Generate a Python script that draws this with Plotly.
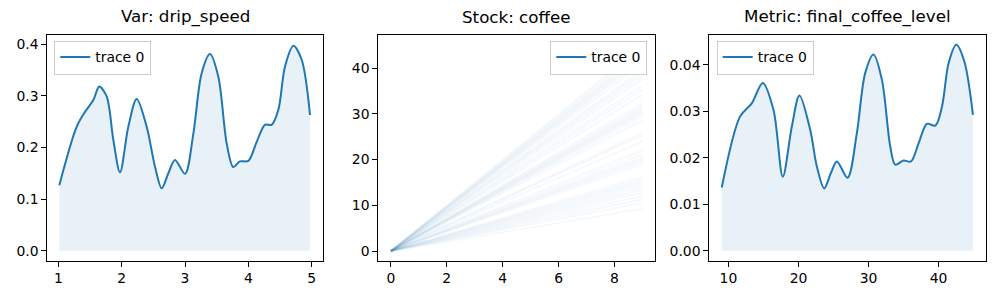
import plotly.graph_objects as go

# ---------------- data ----------------
drip_x = [1.016, 1.289, 1.421, 1.553, 1.647, 1.763, 1.868, 1.974, 2.105, 2.237,
          2.395, 2.526, 2.632, 2.737, 2.842, 3.0, 3.132, 3.263, 3.395, 3.526,
          3.658, 3.763, 3.868, 4.0, 4.132, 4.263, 4.368, 4.474, 4.579, 4.711,
          4.842, 4.974]
drip_y = [0.127, 0.240, 0.269, 0.292, 0.318, 0.299, 0.215, 0.152, 0.240, 0.294,
          0.240, 0.163, 0.121, 0.150, 0.176, 0.149, 0.227, 0.344, 0.381, 0.337,
          0.208, 0.162, 0.173, 0.174, 0.211, 0.244, 0.244, 0.273, 0.357, 0.397,
          0.370, 0.263]

coffee_t = [0, 9]
coffee_final = [9.2, 10.5, 11.3, 12.0, 12.8, 13.4, 14.0, 14.6, 15.1, 15.6, 16.2,
                19.0, 19.6, 20.1, 20.5, 21.2, 22.0,
                24.0, 25.3, 25.8,
                28.5, 29.4, 30.0, 30.4, 30.8, 31.2, 31.7, 32.3,
                34.2, 35.3, 36.2, 37.5, 38.3, 39.0, 39.6,
                40.8, 41.6, 42.1, 42.6, 43.0, 43.5, 44.2, 44.8]

level_x = [9.05, 11.67, 13.33, 14.90, 16.43, 17.76, 19.05, 20.14, 21.67, 22.62,
           23.67, 24.62, 25.48, 27.0, 28.33, 29.52, 30.71, 31.90, 33.10, 33.81,
           35.0, 36.05, 37.14, 38.33, 39.52, 40.48, 41.43, 42.52, 43.67, 44.90]
level_y = [0.0136, 0.0289, 0.0317, 0.0361, 0.0303, 0.0159, 0.0267, 0.0334, 0.0260, 0.0181,
           0.0134, 0.0167, 0.0192, 0.0157, 0.0253, 0.0382, 0.0422, 0.0368, 0.0224, 0.0185,
           0.0194, 0.0192, 0.0231, 0.0273, 0.0269, 0.0310, 0.0404, 0.0443, 0.0407, 0.0292]

titles = ["Var: drip_speed", "Stock: coffee", "Metric: final_coffee_level"]

# ---------------- style ----------------
BLUE = "#1f77b4"
FILL = "rgba(31,119,180,0.1)"
FONT = "DejaVu Sans"
W, H = 1000, 300

px_dom = [(47.3, 322.7), (378.3, 655.0), (709.3, 985.7)]
top_px, bot_px = 34.7, 260.7
ydom = [1 - bot_px / H, 1 - top_px / H]

fig = go.Figure()


def add_density(xs, ys, xa, ya, leg):
    fig.add_trace(go.Scatter(x=xs, y=ys, mode="lines", showlegend=False,
                             line=dict(color=BLUE, width=0, shape="spline", smoothing=0.9),
                             fill="tozeroy", fillcolor=FILL, hoverinfo="skip",
                             xaxis=xa, yaxis=ya))
    fig.add_trace(go.Scatter(x=xs, y=ys, mode="lines", name="trace 0",
                             line=dict(color=BLUE, width=2, shape="spline", smoothing=0.9),
                             xaxis=xa, yaxis=ya, legend=leg))


# panel 1
add_density(drip_x, drip_y, "x", "y", "legend")

# panel 2
for v in coffee_final:
    fig.add_trace(go.Scatter(x=coffee_t, y=[0, v], mode="lines", showlegend=False,
                             line=dict(color=BLUE, width=1.8), opacity=0.035,
                             xaxis="x2", yaxis="y2", hoverinfo="skip"))
fig.add_trace(go.Scatter(x=[0], y=[0], mode="lines", name="trace 0",
                         line=dict(color=BLUE, width=2),
                         xaxis="x2", yaxis="y2", legend="legend2"))

# panel 3
add_density(level_x, level_y, "x3", "y3", "legend3")

axis_common = dict(showline=True, mirror=True, linecolor="black", linewidth=1,
                   ticks="outside", ticklen=5, tickwidth=1, tickcolor="black",
                   showgrid=False, zeroline=False,
                   tickfont=dict(family=FONT, size=13.9, color="black"))

xranges = [[0.826, 5.174], [-0.45, 9.45], [7.27, 46.72]]
yranges = [[-0.0194, 0.4186], [-2.12, 47.28], [-0.00216, 0.04647]]
xticks = [[1, 2, 3, 4, 5], [0, 2, 4, 6, 8], [10, 20, 30, 40]]
yticks = [[0, 0.1, 0.2, 0.3, 0.4], [0, 10, 20, 30, 40], [0, 0.01, 0.02, 0.03, 0.04]]
yfmt = [".1f", "d", ".2f"]

layout = dict(width=W, height=H, margin=dict(l=0, r=0, t=0, b=0),
              paper_bgcolor="white", plot_bgcolor="white",
              font=dict(family=FONT, size=13.9, color="black"))

for i in range(3):
    s = "" if i == 0 else str(i + 1)
    layout["xaxis" + s] = dict(axis_common, domain=[px_dom[i][0] / W, px_dom[i][1] / W],
                               range=xranges[i], tickvals=xticks[i],
                               anchor="y" + s)
    layout["yaxis" + s] = dict(axis_common, domain=ydom, range=yranges[i],
                               tickvals=yticks[i], tickformat=yfmt[i],
                               anchor="x" + s)

legend_common = dict(bgcolor="rgba(255,255,255,0.8)", bordercolor="#cccccc", borderwidth=1,
                     font=dict(family=FONT, size=13.9, color="black"),
                     xref="paper", yref="paper", yanchor="top", itemwidth=30)
LEG_Y = 1 - 40.5 / H
layout["legend"] = dict(legend_common, x=54.3 / W, xanchor="left", y=LEG_Y)
layout["legend2"] = dict(legend_common, x=647.3 / W, xanchor="right", y=LEG_Y)
layout["legend3"] = dict(legend_common, x=716.7 / W, xanchor="left", y=LEG_Y)

annotations = []
for i in range(3):
    cx = (px_dom[i][0] + px_dom[i][1]) / 2 / W
    annotations.append(dict(text=titles[i], x=cx, y=1 - 29 / H, xref="paper", yref="paper",
                            xanchor="center", yanchor="bottom", showarrow=False,
                            font=dict(family=FONT, size=16.7, color="black")))
layout["annotations"] = annotations

fig.update_layout(**layout)
fig.write_html("out.html")
